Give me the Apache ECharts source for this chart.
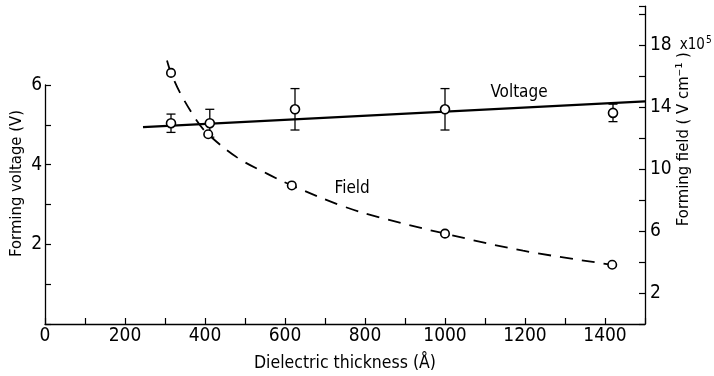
<!DOCTYPE html>
<html>
<head>
<meta charset="utf-8">
<title>Forming voltage and field vs dielectric thickness</title>
<script src="https://cdn.jsdelivr.net/npm/echarts@6/dist/echarts.min.js"></script>
<style>
  html, body { margin: 0; padding: 0; background: #fff; }
  #chart { width: 714px; height: 376px; }
</style>
</head>
<body>
<div id="chart"></div>
<script>
// Measured forming voltage (left axis, V) with error bars
const thickness = [315, 412, 625, 1000, 1420];
const voltage = [5.04, 5.04, 5.39, 5.39, 5.30];
const voltageErr = [0.23, 0.35, 0.52, 0.52, 0.22];

// Straight-line fit through the voltage data
const voltageFitT = [245, 1500];
const voltageFit = [4.94, 5.59];

// Forming field (right axis, units of 10^5 V/cm)
const fieldThickness = [315, 408, 617, 1000, 1418];
const field = [16.2, 12.24, 8.94, 5.83, 3.82];

// Dashed trend curve for the field
const fieldCurveT = [305, 315, 338, 380, 408, 480, 555, 617, 745, 838, 1000, 1195, 1418];
const fieldCurve = [17.0, 16.2, 14.9, 13.1, 12.24, 10.75, 9.7, 8.94, 7.6, 6.87, 5.83, 4.73, 3.82];

// Axis tick labels
const xTickLabels = [0, 200, 400, 600, 800, 1000, 1200, 1400];
const leftTickLabels = [2, 4, 6];
const rightTickLabels = [2, 6, 10, 14, 18];

const FONT = "'DejaVu Sans Condensed', 'Liberation Sans Narrow', 'Liberation Sans', sans-serif";
const INK = '#000';

const zip = (a, b) => a.map((v, i) => [v, b[i]]);

const chart = echarts.init(document.getElementById('chart'), null, { renderer: 'canvas' });

const axisLineStyle = { show: true, onZero: false, lineStyle: { color: INK, width: 1.3 } };
const tickStyle = { show: true, inside: true, length: 6, lineStyle: { color: INK, width: 1.2 } };

chart.setOption({
  backgroundColor: '#fff',
  animation: false,
  textStyle: { fontFamily: FONT, color: INK },
  grid: [
    { left: 45, right: 69, top: 85, bottom: 52, containLabel: false, outerBoundsMode: 'none' },
    { left: 45, right: 69, top: 6.25, bottom: 52, containLabel: false, outerBoundsMode: 'none' }
  ],
  xAxis: [
    {
      gridIndex: 0, type: 'value', min: 0, max: 1500, interval: 100,
      axisLine: axisLineStyle, axisTick: tickStyle,
      splitLine: { show: false },
      axisLabel: {
        color: INK, fontFamily: FONT, fontSize: 19, margin: 3,
        formatter: v => (xTickLabels.indexOf(v) >= 0 ? String(v) : '')
      },
      name: 'Dielectric thickness (Å)', nameLocation: 'middle', nameGap: 30,
      nameMoveOverlap: false,
      nameTextStyle: { color: INK, fontFamily: FONT, fontSize: 17.5 }
    },
    {
      gridIndex: 1, type: 'value', min: 0, max: 1500, show: false
    }
  ],
  yAxis: [
    {
      gridIndex: 0, type: 'value', min: 0, max: 6, interval: 1, position: 'left',
      axisLine: axisLineStyle, axisTick: tickStyle,
      splitLine: { show: false },
      axisLabel: {
        color: INK, fontFamily: FONT, fontSize: 19, margin: 3,
        formatter: v => (leftTickLabels.indexOf(v) >= 0 ? String(v) : '')
      },
      name: 'Forming voltage (V)', nameLocation: 'middle', nameRotate: 90, nameGap: 20,
      nameMoveOverlap: false,
      nameTextStyle: { color: INK, fontFamily: FONT, fontSize: 16.5, padding: [0, 0, 0, 42] }
    },
    {
      gridIndex: 1, type: 'value', min: 0, max: 20.5, interval: 2, position: 'right',
      axisLine: axisLineStyle, axisTick: tickStyle,
      splitLine: { show: false },
      axisLabel: {
        color: INK, fontFamily: FONT, fontSize: 19, margin: 5,
        formatter: v => {
          if (rightTickLabels.indexOf(v) < 0) return '';
          return v === 18 ? '{n|18}{u|x10}{s|5}' : '{n|' + v + '}';
        },
        rich: {
          n: { fontFamily: FONT, fontSize: 19, color: INK },
          u: { fontFamily: FONT, fontSize: 15, color: INK, padding: [0, 0, 0, 8] },
          s: { fontFamily: FONT, fontSize: 10, color: INK, verticalAlign: 'top', padding: [0, 0, 9, 1] }
        }
      },
      name: 'Forming field ( V cm⁻¹ )', nameLocation: 'middle', nameRotate: 90, nameGap: 30,
      nameMoveOverlap: false,
      nameTextStyle: { color: INK, fontFamily: FONT, fontSize: 16.5, padding: [0, 0, 0, 52] }
    }
  ],
  series: [
    {
      name: 'Voltage fit', type: 'line', xAxisIndex: 0, yAxisIndex: 0,
      data: zip(voltageFitT, voltageFit),
      showSymbol: false, symbol: 'none',
      lineStyle: { color: INK, width: 2.2 },
      z: 2,
      silent: true
    },
    {
      name: 'Voltage error', type: 'custom', xAxisIndex: 0, yAxisIndex: 0,
      data: thickness.map((t, i) => [t, voltage[i] - voltageErr[i], voltage[i] + voltageErr[i]]),
      renderItem: (params, api) => {
        const x = api.value(0);
        const lo = api.coord([x, api.value(1)]);
        const hi = api.coord([x, api.value(2)]);
        const half = 4.5;
        const style = { stroke: INK, lineWidth: 1.3 };
        return {
          type: 'group',
          children: [
            { type: 'line', shape: { x1: lo[0], y1: lo[1], x2: hi[0], y2: hi[1] }, style },
            { type: 'line', shape: { x1: hi[0] - half, y1: hi[1], x2: hi[0] + half, y2: hi[1] }, style },
            { type: 'line', shape: { x1: lo[0] - half, y1: lo[1], x2: lo[0] + half, y2: lo[1] }, style }
          ]
        };
      },
      z: 3,
      silent: true
    },
    {
      name: 'Voltage', type: 'scatter', xAxisIndex: 0, yAxisIndex: 0,
      data: zip(thickness, voltage),
      symbol: 'circle', symbolSize: 9,
      itemStyle: { color: '#fff', borderColor: INK, borderWidth: 1.6, opacity: 1 },
      z: 5
    },
    {
      name: 'Field curve', type: 'line', xAxisIndex: 1, yAxisIndex: 1,
      data: zip(fieldCurveT, fieldCurve),
      smooth: 0.35, showSymbol: false, symbol: 'none',
      lineStyle: { color: INK, width: 1.8, type: [13, 9] },
      z: 2,
      silent: true
    },
    {
      name: 'Field', type: 'scatter', xAxisIndex: 1, yAxisIndex: 1,
      data: zip(fieldThickness, field),
      symbol: 'circle', symbolSize: 8.5,
      itemStyle: { color: '#fff', borderColor: INK, borderWidth: 1.6, opacity: 1 },
      z: 5
    },
    {
      name: 'Curve labels', type: 'scatter', xAxisIndex: 1, yAxisIndex: 1,
      symbolSize: 0, silent: true,
      itemStyle: { opacity: 1 },
      data: [
        { value: [1185, 14.9], label: { formatter: 'Voltage' } },
        { value: [768, 8.74], label: { formatter: 'Field' } }
      ],
      label: {
        show: true, position: 'inside', color: INK, opacity: 1,
        fontFamily: FONT, fontSize: 17
      },
      z: 6
    }
  ]
});
</script>
</body>
</html>
